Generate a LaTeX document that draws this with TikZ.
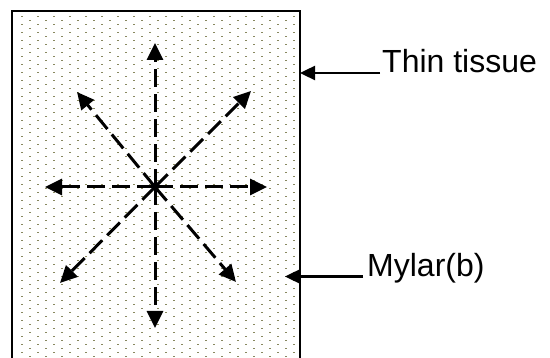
\documentclass[tikz,border=0pt]{standalone}
\usepackage{fontspec}
\setmainfont{Liberation Sans}
\usetikzlibrary{arrows.meta}
\definecolor{dotcol}{RGB}{136,136,96}
\tikzset{ray/.style={-{Triangle[length=17pt,width=16pt]},line width=3pt,dash pattern=on 18pt off 7pt},
	lbl/.style={anchor=base west,inner sep=0pt,font=\fontsize{32}{38}\selectfont},
	pointer/.style={-{Triangle[length=15pt,width=14pt]},line width=2.4pt}}
\begin{document}
\begin{tikzpicture}[x=1pt,y=-1pt]
\useasboundingbox (0,0) rectangle (550,358);
\fill [white] (0,0) rectangle (550,358);
% dotted sheet
\begin{scope}
\clip (13,12) rectangle (299,358);
\foreach \j in {0,...,86} {
	\pgfmathsetmacro{\off}{mod(\j,2)*8}
	\foreach \x in {20.7,36.7,...,300} \fill [dotcol] (\x+\off,15.7+4*\j) rectangle +(1.8,1.8);
}
\end{scope}
\draw [line width=2.8pt] (12,365) -- (12,11) -- (300,11) -- (300,365);
% rays from the centre
\coordinate (c) at (155,187);
\coordinate (n) at (155,43);
\coordinate (s) at (155,328);
\coordinate (w) at (45,187);
\coordinate (e) at (267,187);
\coordinate (nw) at (77,92);
\coordinate (ne) at (251,91);
\coordinate (sw) at (60,283);
\coordinate (se) at (236,282);
\foreach \t in {n,s,w,e,nw,ne,sw,se}
	\draw [ray] (c) -- (\t);
% labels
\node [lbl] (tissue) at (382,73) {Thin tissue};
\node [lbl] (mylar) at (367,276.5) {Mylar(b)};
\coordinate (tissueedge) at (300,73);
\coordinate (mylarin) at (285,276.5);
\draw [pointer] ([xshift=-2pt]tissue.base west) -- (tissueedge);
\draw [pointer] ([xshift=-4pt]mylar.base west) -- (mylarin);
\end{tikzpicture}
\end{document}
